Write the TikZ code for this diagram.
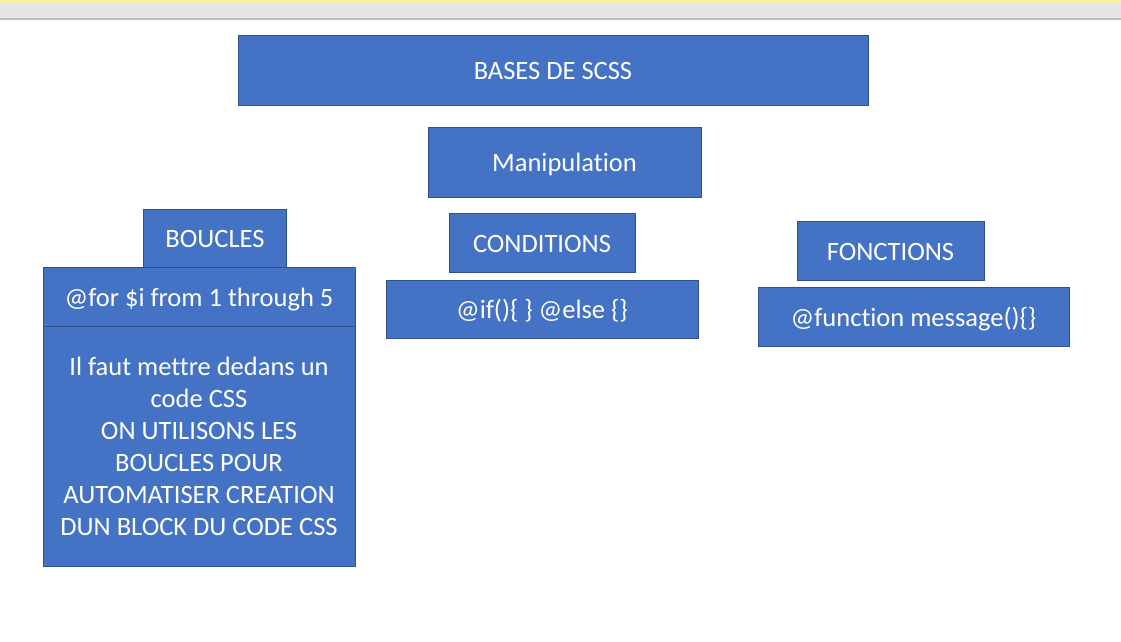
\documentclass[tikz,border=0pt]{standalone}
\usepackage{fontspec}
\setmainfont{Carlito}[Ligatures={NoCommon}]
\usepackage{tikz}
\usetikzlibrary{positioning}
\definecolor{bleu}{HTML}{4472C4}
\definecolor{bordure}{HTML}{2F528F}
\definecolor{barre}{HTML}{E5E5E5}
\definecolor{jaune}{HTML}{F7F0A2}
\definecolor{trait}{HTML}{BEBEBE}
\tikzset{
    bloc/.style={draw=bordure, fill=bleu, text=white, line width=0.8pt, inner sep=0pt,
        font=\fontsize{26.5}{32}\selectfont, align=center},
    ligne/.style={bloc, text height=23pt, text depth=4pt},
}

\begin{document}
\begin{tikzpicture}[x=1pt, y=-1pt]
    \useasboundingbox[fill=white] (0,0) rectangle (1121,641);
    % window bar
    \fill[jaune] (0,0) rectangle (1121,3);
    \fill[barre] (0,3) rectangle (1121,18);
    \fill[trait] (0,18) rectangle (1121,19.5);

    % title and theme
    \node[ligne, minimum width=630, minimum height=70] (titre) at (553,70) {BASES DE SCSS};
    \node[ligne, minimum width=273, minimum height=70] (manip) at (564.5,162) {Manipulation};

    % loops
    \node[ligne, minimum width=143, minimum height=58] (boucles) at (215,238) {BOUCLES};
    \node[ligne, minimum width=312, minimum height=59] (pourbloc) at (199,296.5) {@for \$i from 1 through 5};
    \node[bloc, minimum width=312, minimum height=240] (boucnote) at (199,446)
        {Il faut mettre dedans un\\code CSS\\ON UTILISONS LES\\BOUCLES POUR\\AUTOMATISER CREATION\\DUN BLOCK DU CODE CSS};

    % conditions
    \node[ligne, minimum width=186, minimum height=59] (cond) at (542,242.5) {CONDITIONS};
    \node[ligne, minimum width=312, minimum height=58] (sibloc) at (542,309) {@if()\{ \} @else \{\}};

    % functions
    \node[ligne, minimum width=187, minimum height=59] (fonc) at (890.5,250.5) {FONCTIONS};
    \node[ligne, minimum width=311, minimum height=59] (foncbloc) at (913.5,316.5) {@function message()\{\}};
\end{tikzpicture}
\end{document}
